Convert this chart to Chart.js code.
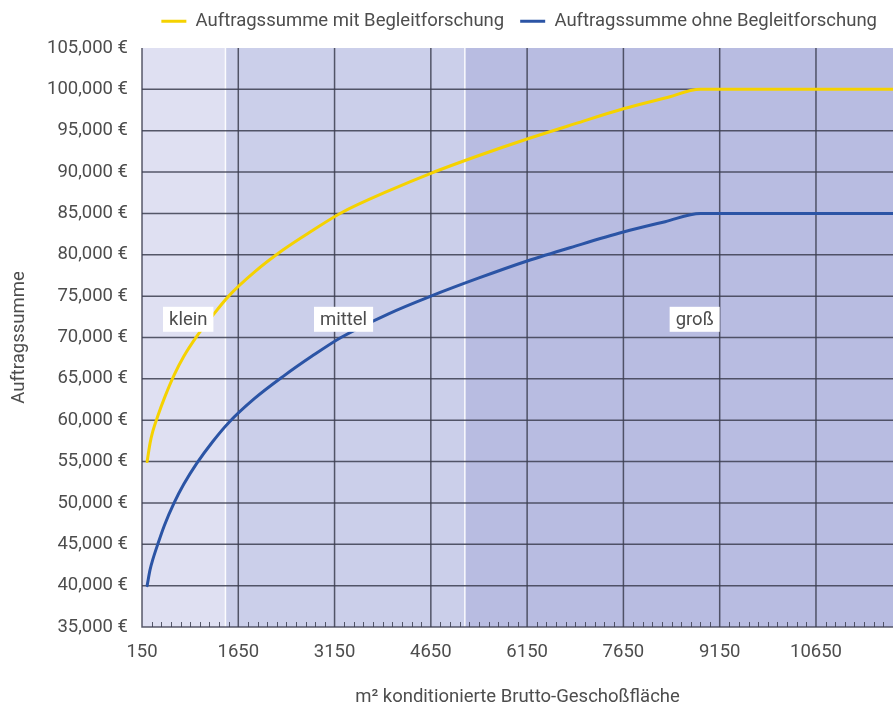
<!DOCTYPE html>
<html>
<head>
<meta charset="utf-8">
<script src="https://cdn.jsdelivr.net/npm/chart.js@4.4.1/dist/chart.umd.min.js"></script>
<style>
  html, body { margin: 0; padding: 0; background: #fff; }
  #wrap { width: 893px; height: 705px; }
</style>
</head>
<body>
<div id="wrap"><canvas id="myChart" width="893" height="705"></canvas></div>
<script>
// m² konditionierte Brutto-Geschoßfläche
const flaeche = [230, 275, 320, 400, 500, 650, 800, 1000, 1250, 1500, 1900, 2350, 2800, 3250, 4000, 4650, 5400, 6150, 6900, 7650, 8300, 8850, 11850];
const mitBegleitforschung = [55000, 57200, 58700, 60600, 62700, 65450, 67700, 70100, 72650, 75000, 77900, 80600, 82900, 85050, 87750, 89850, 92000, 94000, 95850, 97650, 98950, 100000, 100000];
const ohneBegleitforschung = [40000, 41900, 43200, 45100, 47300, 50000, 52250, 54750, 57400, 59700, 62600, 65300, 67750, 70000, 72900, 75000, 77200, 79250, 81050, 82750, 84000, 85000, 85000];

// size classes shown as background bands
const bandNames = ["klein", "mittel", "groß"];
const bandStart = [150, 1450, 5180];
const bandEnd = [1450, 5180, 11850];
const bandLabelX = [870, 3290, 8760];
const bandLabelY = 72200;

const xMin = 150, xMax = 11850, xMajorStep = 1500, xMinorStep = 150;
const yMin = 35000, yMax = 105000, yStep = 5000;

const textColor = "#4d4d4d";
const gridColor = "rgba(60, 62, 80, 0.85)";
const bandColors = ["#dfe0f2", "#cbcfea", "#b8bce1"];
const fontFamily = "Roboto, 'Noto Sans', sans-serif";
const fontSize = 18.5;

function isMajorX(v) {
    return (v - xMin) % xMajorStep === 0;
}

// background bands + white separators
const bandsPlugin = {
    id: "bands",
    beforeDatasetsDraw(chart) {
        const { ctx, chartArea, scales } = chart;
        ctx.save();
        for (let i = 0; i < bandNames.length; i++) {
            const x1 = scales.x.getPixelForValue(bandStart[i]);
            const x2 = scales.x.getPixelForValue(bandEnd[i]);
            ctx.fillStyle = bandColors[i];
            ctx.fillRect(x1, chartArea.top, x2 - x1, chartArea.bottom - chartArea.top);
        }
        ctx.strokeStyle = "rgba(255,255,255,0.9)";
        ctx.lineWidth = 1.5;
        for (let i = 1; i < bandNames.length; i++) {
            const x = scales.x.getPixelForValue(bandStart[i]);
            ctx.beginPath();
            ctx.moveTo(x, chartArea.top);
            ctx.lineTo(x, chartArea.bottom);
            ctx.stroke();
        }
        ctx.restore();
    }
};

// grid over the bands, minor ticks on the x axis and the band labels
const overlayPlugin = {
    id: "overlay",
    beforeDatasetsDraw(chart) {
        const { ctx, chartArea, scales } = chart;
        ctx.save();
        ctx.strokeStyle = gridColor;
        ctx.lineWidth = 1.5;
        for (let v = yMin + yStep; v < yMax; v += yStep) {
            const y = scales.y.getPixelForValue(v);
            ctx.beginPath();
            ctx.moveTo(chartArea.left, y);
            ctx.lineTo(chartArea.right, y);
            ctx.stroke();
        }
        for (let v = xMin + xMajorStep; v <= xMax; v += xMajorStep) {
            const x = scales.x.getPixelForValue(v);
            ctx.beginPath();
            ctx.moveTo(x, chartArea.top);
            ctx.lineTo(x, chartArea.bottom);
            ctx.stroke();
        }
        ctx.lineWidth = 1;
        for (let v = xMin + xMinorStep; v <= xMax; v += xMinorStep) {
            if (isMajorX(v)) continue;
            const x = Math.round(scales.x.getPixelForValue(v)) + 0.5;
            ctx.beginPath();
            ctx.moveTo(x, chartArea.bottom);
            ctx.lineTo(x, chartArea.bottom - 5);
            ctx.stroke();
        }
        // axis lines
        ctx.lineWidth = 1.5;
        ctx.beginPath();
        ctx.moveTo(chartArea.left, chartArea.top);
        ctx.lineTo(chartArea.left, chartArea.bottom);
        ctx.lineTo(chartArea.right, chartArea.bottom);
        ctx.stroke();
        ctx.restore();
    },
    afterDatasetsDraw(chart) {
        const { ctx, scales } = chart;
        ctx.save();
        ctx.font = fontSize + "px " + fontFamily;
        ctx.textAlign = "center";
        ctx.textBaseline = "middle";
        for (let i = 0; i < bandNames.length; i++) {
            const x = scales.x.getPixelForValue(bandLabelX[i]);
            const y = scales.y.getPixelForValue(bandLabelY);
            const w = ctx.measureText(bandNames[i]).width + 12;
            const h = 25;
            ctx.fillStyle = "#ffffff";
            ctx.fillRect(x - w / 2, y - h / 2, w, h);
            ctx.fillStyle = textColor;
            ctx.fillText(bandNames[i], x, y + 1);
        }
        ctx.restore();
    }
};

const ctx = document.getElementById("myChart").getContext("2d");
const chartInstance = new Chart(ctx, {
    type: "line",
    data: {
        datasets: [{
            label: "Auftragssumme mit Begleitforschung",
            data: flaeche.map((x, i) => ({ x: x, y: mitBegleitforschung[i] })),
            borderColor: "#f5d200",
            backgroundColor: "#f5d200",
            borderWidth: 3,
            borderCapStyle: "round",
            pointRadius: 0,
            cubicInterpolationMode: "monotone",
            fill: false
        }, {
            label: "Auftragssumme ohne Begleitforschung",
            data: flaeche.map((x, i) => ({ x: x, y: ohneBegleitforschung[i] })),
            borderColor: "#2b54a5",
            backgroundColor: "#2b54a5",
            borderWidth: 3,
            borderCapStyle: "round",
            pointRadius: 0,
            cubicInterpolationMode: "monotone",
            fill: false
        }]
    },
    options: {
        responsive: false,
        animation: false,
        layout: { padding: { left: 8, right: 0, top: -4, bottom: 0 } },
        plugins: {
            legend: {
                position: "top",
                align: "end",
                labels: {
                    color: textColor,
                    font: { family: fontFamily, size: fontSize },
                    boxWidth: 25,
                    boxHeight: 3,
                    padding: 16,
                    generateLabels: function (chart) {
                        const items = Chart.defaults.plugins.legend.labels.generateLabels(chart);
                        items.forEach(function (it) { it.lineWidth = 0; });
                        return items;
                    }
                }
            },
            // empty title used only as a spacer between legend and plot
            title: {
                display: true,
                text: "",
                weight: 500,
                padding: { top: 0, bottom: 0 },
                font: { size: 7.5, lineHeight: 1 }
            },
            tooltip: { enabled: false }
        },
        scales: {
            x: {
                type: "linear",
                min: xMin,
                max: xMax,
                afterBuildTicks: function (scale) {
                    const ticks = [];
                    for (let v = xMin; v <= xMax; v += xMajorStep) ticks.push({ value: v });
                    scale.ticks = ticks;
                },
                afterFit: function (scale) { scale.height = 78; },
                grid: { display: false, drawTicks: false },
                border: { display: false },
                ticks: {
                    color: textColor,
                    font: { family: fontFamily, size: fontSize },
                    padding: 14,
                    maxRotation: 0,
                    autoSkip: false,
                    callback: function (value) { return String(value); }
                },
                title: {
                    display: true,
                    text: "m² konditionierte Brutto-Geschoßfläche",
                    color: textColor,
                    font: { family: fontFamily, size: fontSize },
                    padding: { top: 0, bottom: -3 }
                }
            },
            y: {
                min: yMin,
                max: yMax,
                afterFit: function (scale) { scale.width = 134; },
                grid: { display: false, drawTicks: false },
                border: { display: false },
                ticks: {
                    stepSize: yStep,
                    color: textColor,
                    font: { family: fontFamily, size: fontSize },
                    padding: 14,
                    callback: function (value) {
                        return value.toLocaleString("en-US") + " €";
                    }
                },
                title: {
                    display: true,
                    text: "Auftragssumme",
                    color: textColor,
                    font: { family: fontFamily, size: fontSize },
                    padding: { top: 0, bottom: 0 }
                }
            }
        }
    },
    plugins: [bandsPlugin, overlayPlugin]
});
</script>
</body>
</html>
